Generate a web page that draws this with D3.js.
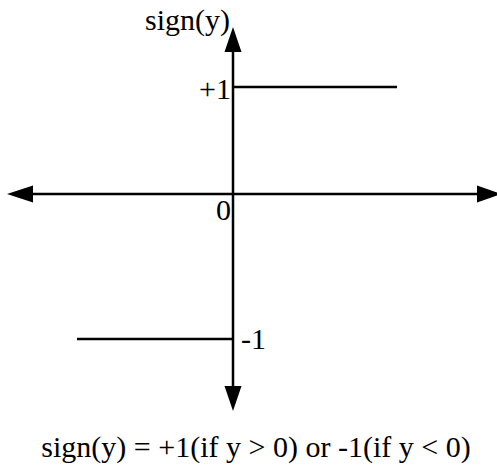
<!DOCTYPE html>
<html>
<head>
<meta charset="utf-8">
<script src="https://cdn.jsdelivr.net/npm/d3@7"></script>
<style>
  body { margin: 0; background: #fff; }
  svg text { font-family: "Liberation Serif", "Times New Roman", serif; fill: #000; }
</style>
</head>
<body>
<svg id="chart" width="497" height="466"></svg>
<script>
    // step function values
    var negX = [-1, 0];
    var negY = [-1, -1];
    var posX = [0, 1];
    var posY = [1, 1];

    var yTickValues = [1, 0, -1];
    var yTickLabels = ["+1", "0", "-1"];
    var axisTitle = "sign(y)";
    var caption = "sign(y) = +1(if y > 0) or -1(if y < 0)";

    var svg = d3.select("#chart");

    var x = d3.scaleLinear().domain([-1, 0, 1]).range([77, 233, 397]);
    var y = d3.scaleLinear().domain([-1, 0, 1]).range([339, 194, 87]);

    var x0 = x(0), y0 = y(0);

    // axes
    var axes = svg.append("g").attr("stroke", "#000").attr("stroke-width", 2.5);
    axes.append("line").attr("x1", 30).attr("x2", 478).attr("y1", y0).attr("y2", y0);
    axes.append("line").attr("x1", x0).attr("x2", x0).attr("y1", 50).attr("y2", 388);

    // arrow heads
    var heads = [
      [[7, y0], [33, y0 - 8.5], [33, y0 + 8.5]],
      [[501, y0], [477, y0 - 8.5], [477, y0 + 8.5]],
      [[x0, 27], [x0 - 8.5, 52], [x0 + 8.5, 52]],
      [[x0, 411], [x0 - 8.5, 386], [x0 + 8.5, 386]]
    ];
    svg.append("g").selectAll("path")
      .data(heads)
      .enter().append("path")
      .attr("d", function(d) { return "M" + d.join("L") + "Z"; })
      .attr("fill", "#000");

    // step lines
    var line = d3.line()
      .x(function(d) { return x(d[0]); })
      .y(function(d) { return y(d[1]); });

    svg.append("path")
      .attr("d", line(d3.zip(negX, negY)))
      .attr("stroke", "#000").attr("stroke-width", 2.5).attr("fill", "none");
    svg.append("path")
      .attr("d", line(d3.zip(posX, posY)))
      .attr("stroke", "#000").attr("stroke-width", 2.5).attr("fill", "none");

    // tick labels
    svg.selectAll("text.tick")
      .data(yTickValues)
      .enter().append("text")
      .attr("class", "tick")
      .attr("font-size", 30)
      .attr("x", function(d) { return d < 0 ? x0 + 8 : x0 - 2; })
      .attr("y", function(d) { return d === 0 ? y0 + 26 : y(d) + (d > 0 ? 12 : 10); })
      .attr("text-anchor", function(d) { return d < 0 ? "start" : "end"; })
      .text(function(d, i) { return yTickLabels[i]; });

    svg.append("text")
      .attr("font-size", 30)
      .attr("x", x0 - 3)
      .attr("y", 30)
      .attr("text-anchor", "end")
      .text(axisTitle);

    svg.append("text")
      .attr("font-size", 30)
      .attr("x", 256)
      .attr("y", 457)
      .attr("text-anchor", "middle")
      .text(caption);
</script>
</body>
</html>
